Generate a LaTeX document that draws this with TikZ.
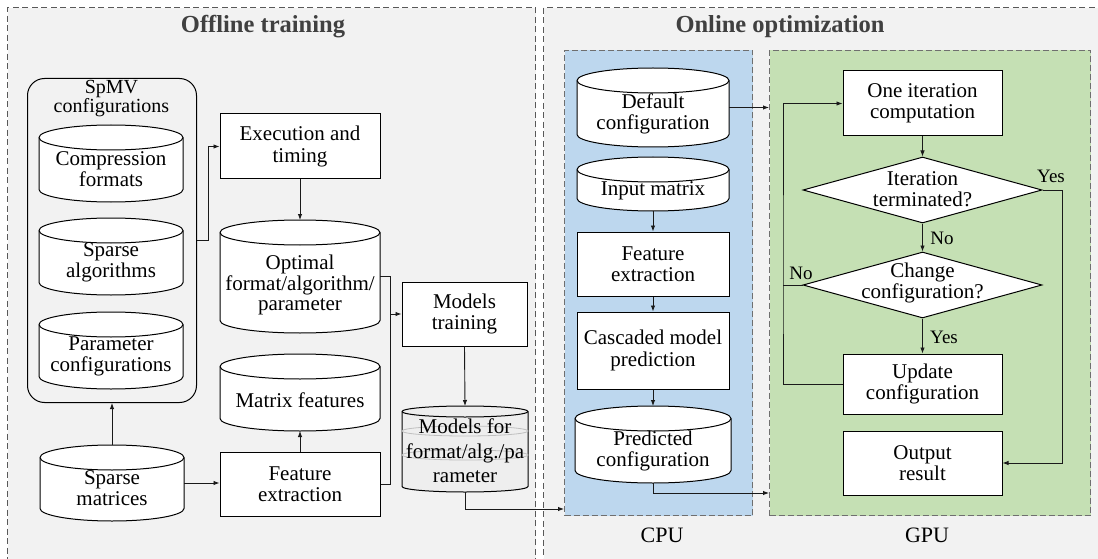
\documentclass[tikz,border=0pt]{standalone}
\usepackage{fontspec}
\setmainfont{Liberation Serif}
\usetikzlibrary{arrows.meta,shapes.geometric}
\definecolor{bgpanel}{HTML}{F2F2F2}
\definecolor{cpufill}{HTML}{BDD7EE}
\definecolor{gpufill}{HTML}{C5E0B4}
\definecolor{panelgray}{HTML}{595959}
\definecolor{subgray}{HTML}{6F6F6F}
\definecolor{titlegray}{HTML}{404040}
\definecolor{linecol}{HTML}{1A1A1A}
\definecolor{mforfill}{HTML}{EEEEEE}
\definecolor{ringgray}{HTML}{BFBFBF}
\newcommand\mycyl[7]{%
  \pgfmathsetmacro\cyXa{(#4-#2)/2}%
  \pgfmathsetmacro\cyXm{(#2+#4)/2}%
  \pgfmathsetmacro\cyXt{#3+#6}%
  \pgfmathsetmacro\cyXb{#5-#6}%
  \pgfmathsetmacro\cyXc{(#3+#5)/2}%
  \pgfmathsetmacro\cyXw{#4-#2}%
  \pgfmathsetmacro\cyXh{#5-#3}%
  \filldraw[cyl, fill=#7] (#2,\cyXt) -- (#2,\cyXb)
    arc[start angle=180,end angle=360,x radius=\cyXa pt,y radius=#6pt]
    -- (#4,\cyXt)
    arc[start angle=0,end angle=180,x radius=\cyXa pt,y radius=#6pt] -- cycle;
  \draw[cyl] (#2,\cyXt) arc[start angle=180,end angle=360,x radius=\cyXa pt,y radius=#6pt];
  \node[inner sep=0pt, outer sep=0pt, minimum width=\cyXw pt, minimum height=\cyXh pt] (#1) at (\cyXm,\cyXc) {};
}
\begin{document}
\begin{tikzpicture}[x=1pt,y=-1pt,
  panel/.style={draw=panelgray, line width=1.2pt, dash pattern=on 6pt off 3.5pt, inner sep=0pt, anchor=north west},
  subpanel/.style={draw=subgray, line width=1pt, dash pattern=on 6pt off 3pt, inner sep=0pt, anchor=north west},
  box/.style={draw=black, fill=white, line width=1pt, inner sep=0pt, font=\fontsize{21}{21.5}\selectfont, align=center},
  cyl/.style={draw=black, line width=1pt},
  txt/.style={font=\fontsize{21}{21}\selectfont, align=center, inner sep=0pt},
  lbl/.style={font=\fontsize{19}{19}\selectfont, inner sep=0pt},
  ttl/.style={font=\fontsize{24.5}{26}\selectfont\bfseries, text=titlegray, inner sep=0pt},
  conn/.style={line width=0.9pt, draw=linecol},
  arr/.style={conn, -{Latex[length=6pt,width=4.5pt]}},
  dia/.style={diamond, draw=black, fill=white, line width=1pt, inner sep=0pt}
]
\useasboundingbox (0,0) rectangle (1098,559);
\fill[white] (0,0) rectangle (1098,559);
% panels
\node[panel, fill=bgpanel, minimum width=528pt, minimum height=570pt] (off) at (7,7) {};
\node[panel, fill=bgpanel, minimum width=570pt, minimum height=570pt] (on) at (543,7) {};
\node[subpanel, fill=cpufill, minimum width=188pt, minimum height=465pt] (cpu) at (564,50) {};
\node[subpanel, fill=gpufill, minimum width=321pt, minimum height=465pt] (gpu) at (769,50) {};

% offline
\node[draw=black, line width=1pt, rounded corners=17pt, minimum width=169pt, minimum height=324pt, inner sep=0pt, anchor=north west] (spmv) at (27,78) {};
\node[txt, font=\fontsize{20}{19}\selectfont] (spmvt) at (111.5,99) {SpMV\\configurations};
\mycyl{cf}{39}{125}{183}{202}{12.5}{white}
\node[txt] (cft) at (111,169) {Compression\\formats};
\mycyl{sa}{39}{218}{183}{295}{12.5}{white}
\node[txt] (sat) at (111,262.5) {Sparse\\algorithms};
\mycyl{pc}{39}{312}{183}{389}{12.5}{white}
\node[txt] (pct) at (111,356) {Parameter\\configurations};
\mycyl{sm}{40}{445}{184}{521}{12.5}{white}
\node[txt] (smt) at (112,488) {Sparse\\matrices};
\node[box, minimum width=160pt, minimum height=65pt] (exec) at (300,146.5) {Execution and\\timing};
\mycyl{opt}{220}{220}{380}{333}{12.5}{white}
\node[txt, font=\fontsize{21}{20.5}\selectfont] (optt) at (300,285) {Optimal\\format/algorithm/\\parameter};
\mycyl{mf}{220}{354}{380}{431}{12.5}{white}
\node[txt] (mft) at (300,400) {Matrix features};
\node[box, minimum width=160pt, minimum height=64pt] (feat) at (300,484) {Feature\\extraction};
\node[box, minimum width=125pt, minimum height=64pt] (train) at (464.5,314) {Models\\training};
\mycyl{mfor}{402}{406}{528}{492}{5.5}{mforfill}
\draw[ringgray, line width=0.8pt] (465,431) ellipse [x radius=63pt, y radius=5pt];
\draw[ringgray, line width=0.8pt] (465,455) ellipse [x radius=63pt, y radius=5pt];
\node[txt, font=\fontsize{21}{24.5}\selectfont] (mfort) at (465,451) {Models for\\format/alg./pa\\rameter};

% online CPU
\mycyl{def}{577}{68}{729}{147}{12.5}{white}
\node[txt] (deft) at (653,114) {Default\\configuration};
\mycyl{inp}{577}{157}{729}{211}{12.5}{white}
\node[txt] (inpt) at (653,191) {Input matrix};
\node[box, minimum width=152pt, minimum height=64pt] (cfeat) at (653,264) {Feature\\extraction};
\node[box, minimum width=152pt, minimum height=77pt] (casc) at (653,350.5) {Cascaded model\\prediction};
\mycyl{pred}{575}{406}{731}{483}{12.5}{white}
\node[txt] (predt) at (653,451) {Predicted\\configuration};

% online GPU
\node[box, minimum width=159pt, minimum height=65pt] (iter) at (922.5,103.5) {One iteration\\computation};
\node[dia, minimum width=239pt, minimum height=66pt] (d1) at (922.5,190) {};
\node[txt] (d1t) at (922.5,189) {Iteration\\terminated?};
\node[dia, minimum width=239pt, minimum height=66pt] (d2) at (922.5,285) {};
\node[txt] (d2t) at (922.5,283) {Change\\configuration?};
\node[box, minimum width=159pt, minimum height=60pt] (upd) at (922.5,384) {Update\\configuration};
\node[box, minimum width=159pt, minimum height=64pt] (out) at (922.5,463) {Output\\result};

% titles and panel labels
\node[ttl] (offt) at (263,27) {Offline training};
\node[ttl] (ont) at (780,27) {Online optimization};
\node[font=\fontsize{22}{22}\selectfont, inner sep=0pt] (cpul) at (662,535) {CPU};
\node[font=\fontsize{22}{22}\selectfont, inner sep=0pt] (gpul) at (927,535) {GPU};

% connectors offline
\draw[arr] (spmv.east) -- ++(11,0) |- (exec.west);
\draw[arr] (exec.south) -- (opt.north);
\coordinate (bus) at ([xshift=-11pt]train.west);
\draw[conn] (opt.east) -| (bus);
\draw[arr] (feat.east) -| (bus) -- (train.west);
\draw[arr] (sm.east) -- (sm.east -| feat.west);
\draw[arr] (sm.north) -- (sm.north |- spmv.south);
\draw[arr] (feat.north) -- (mf.south);
\draw[arr] (train.south) -- (mfor.north);
\coordinate (cpuin) at (564,509);
\draw[arr] (mfor.south) |- (cpuin);

% connectors online
\draw[arr] (def.east) -- (def.east -| gpu.west);
\coordinate (gpuin) at (769,493);
\draw[arr] (pred.south) |- (gpuin);
\draw[arr] (inp.south) -- (cfeat.north);
\draw[arr] (cfeat.south) -- (casc.north);
\draw[arr] (casc.south) -- (pred.north);
\draw[arr] (iter.south) -- (d1.north);
\draw[arr] (d1.south) -- (d2.north);
\draw[arr] (d2.south) -- (upd.north);
\coordinate (yesx) at (1062,190);
\draw[arr] (d1.east) -- (yesx) |- (out.east);
\coordinate (loopx) at (783,285);
\draw[conn] (d2.west) -- (loopx);
\draw[arr] (upd.west) -| (loopx) |- (iter.west);

% labels
\node[lbl] (yes1) at (1051,176) {Yes};
\node[lbl] (no1) at (942,238) {No};
\node[lbl] (no2) at (801,273) {No};
\node[lbl] (yes2) at (944,337) {Yes};
\end{tikzpicture}
\end{document}
